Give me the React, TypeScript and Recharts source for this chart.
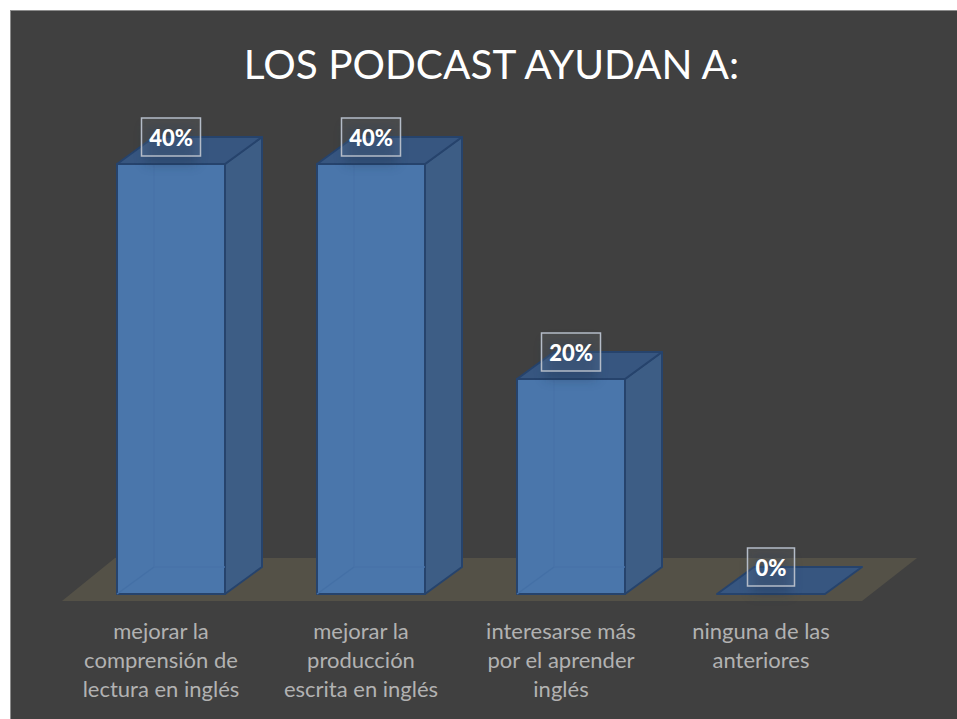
import React from 'react';
import { BarChart, Bar, XAxis, YAxis, LabelList, ReferenceArea } from 'recharts';

const categories = [
  'mejorar la comprensión de lectura en inglés',
  'mejorar la producción escrita en inglés',
  'interesarse más por el aprender inglés',
  'ninguna de las anteriores',
];
const values = [40, 40, 20, 0];
const tickLines = [
  ['mejorar la', 'comprensión de', 'lectura en inglés'],
  ['mejorar la', 'producción', 'escrita en inglés'],
  ['interesarse más', 'por el aprender', 'inglés'],
  ['ninguna de las', 'anteriores'],
];

const data = categories.map((name, i) => ({ name, value: values[i] }));

const DEPTH_X = 37;
const DEPTH_Y = 27;
const EDGE = '#26436c';

// 3D box: front, side and top faces, back edges show through a little
const Box3D = (props: any) => {
  const { x, y, width, height } = props;
  const r = x + width;
  const b = y + height;
  const dx = DEPTH_X;
  const dy = DEPTH_Y;
  return (
    <g strokeLinejoin="round">
      {height > 0 && (
        <>
          <polygon
            points={`${r},${y} ${r + dx},${y - dy} ${r + dx},${b - dy} ${r},${b}`}
            fill="#3d5d85"
            stroke={EDGE}
            strokeWidth={2}
          />
          <rect x={x} y={y} width={width} height={height} fill="#4a76ab" stroke={EDGE} strokeWidth={2} />
          <line x1={x + dx} y1={y} x2={x + dx} y2={b - dy} stroke="#4873a9" strokeWidth={1.5} />
          <line x1={x + dx} y1={b - dy} x2={r} y2={b - dy} stroke="#4873a9" strokeWidth={1.5} />
          <line x1={x} y1={b} x2={x + dx} y2={b - dy} stroke="#4470a6" strokeWidth={1.5} />
        </>
      )}
      <polygon
        points={`${x},${y} ${x + dx},${y - dy} ${r + dx},${y - dy} ${r},${y}`}
        fill="#375680"
        stroke={EDGE}
        strokeWidth={2}
      />
    </g>
  );
};

const DataLabel = (props: any) => {
  const { x, y, width, value } = props;
  const text = `${value}%`;
  const w = value === 0 ? 47 : 59;
  const h = 38;
  const cx = x + width / 2;
  const cy = y - 27;
  return (
    <g>
      <rect x={cx - w / 2 + 4} y={cy - h / 2 + 8} width={w - 8} height={h} fill="#1d3050" opacity={0.35} filter="url(#labelBlur)" />
      <rect
        x={cx - w / 2}
        y={cy - h / 2}
        width={w}
        height={h}
        fill="#ffffff"
        fillOpacity={0.06}
        stroke="#b4bcc8"
        strokeWidth={1.5}
      />
      <text x={cx} y={cy + 9} textAnchor="middle" fill="#ffffff" fontFamily="Lato" fontWeight={900} fontSize={22}>
        {text}
      </text>
    </g>
  );
};

const CategoryTick = (props: any) => {
  const { x, y, index } = props;
  return (
    <text x={x - 10} y={y + 39} textAnchor="middle" fill="#b2b2b2" fontFamily="Lato" fontSize={22}>
      {tickLines[index].map((line, i) => (
        <tspan key={i} x={x - 10} dy={i === 0 ? 0 : 29}>
          {line}
        </tspan>
      ))}
    </text>
  );
};

// ground plane under the boxes, skewed like the boxes' depth
const Floor = (props: any) => {
  const { x, y, width, height } = props;
  const b = y + height;
  return (
    <polygon
      points={`${x - 9},${b} ${x + 44},${y} ${x + width + 46},${y} ${x + width - 9},${b}`}
      fill="#545147"
    />
  );
};

export default function App() {
  return (
    <div style={{ position: 'absolute', left: 0, top: 0, width: 957, height: 719, background: '#ffffff', overflow: 'hidden' }}>
      <div
        style={{
          position: 'absolute',
          left: 10,
          top: 10,
          width: 947,
          height: 709,
          background: '#404040',
          borderLeft: '1px solid #8c8c8c',
          borderTop: '1px solid #8c8c8c',
          boxSizing: 'border-box',
        }}
      />
      <div
        style={{
          position: 'absolute',
          left: 0,
          top: 40,
          width: 983,
          textAlign: 'center',
          color: '#ffffff',
          fontFamily: 'Lato',
          fontSize: 40.6,
          lineHeight: '48px',
        }}
      >
        LOS PODCAST AYUDAN A:
      </div>
      <div style={{ position: 'absolute', left: 0, top: 0 }}>
        <BarChart
          width={957}
          height={719}
          data={data}
          margin={{ top: 164, right: 86, bottom: 0, left: 71 }}
          barCategoryGap={0}
        >
          <defs>
            <filter id="labelBlur" x="-40%" y="-40%" width="180%" height="180%">
              <feGaussianBlur stdDeviation="6" />
            </filter>
          </defs>
          <XAxis
            dataKey="name"
            axisLine={false}
            tickLine={false}
            interval={0}
            height={125}
            tickMargin={0}
            tick={<CategoryTick />}
          />
          <YAxis hide domain={[0, 40]} width={0} />
          <ReferenceArea y1={-0.65} y2={3.35} ifOverflow="visible" shape={<Floor />} />
          <Bar dataKey="value" barSize={108} shape={<Box3D />} isAnimationActive={false}>
            <LabelList dataKey="value" content={<DataLabel />} />
          </Bar>
        </BarChart>
      </div>
    </div>
  );
}
